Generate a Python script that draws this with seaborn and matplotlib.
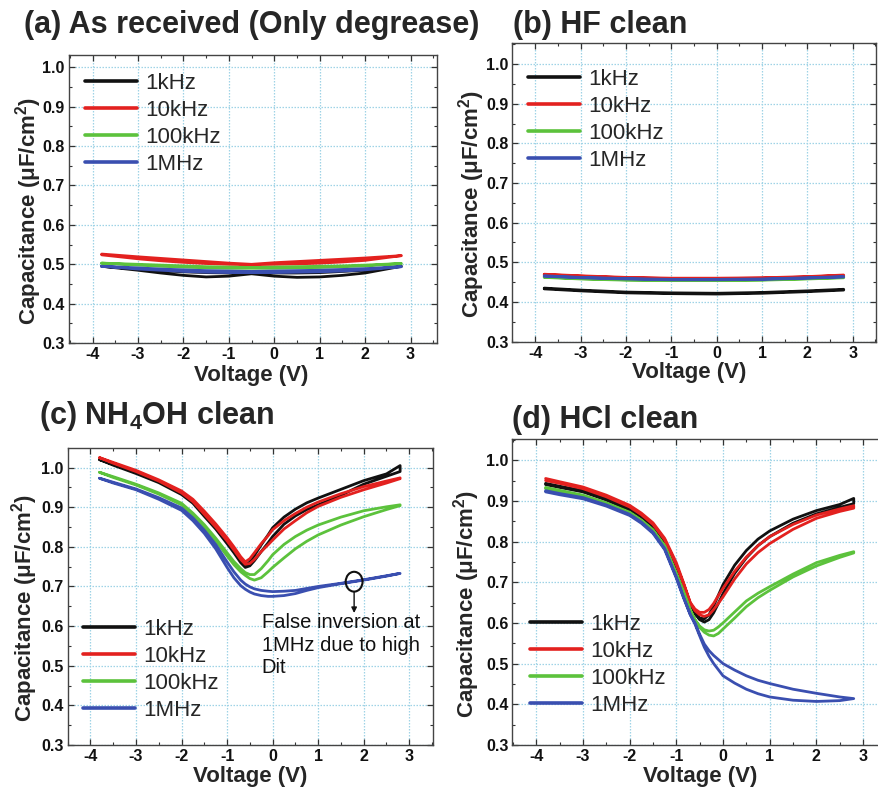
import numpy as np
import pandas as pd
import matplotlib
matplotlib.use("Agg")
import matplotlib.pyplot as plt
import seaborn as sns
from matplotlib.lines import Line2D
from matplotlib.patches import Ellipse
from matplotlib.ticker import MultipleLocator, FormatStrFormatter

# ---------------- data ----------------
freqs = ["1kHz", "10kHz", "100kHz", "1MHz"]
line_colors = ["#111111", "#e3211f", "#5cc23c", "#3a4fb0"]

titles = ["(a) As received (Only degrease)", "(b) HF clean",
          r"(c) NH$_\mathbf{4}$OH clean", "(d) HCl clean"]

# (a) As received
V_a = [-3.8, -3.0, -2.5, -2.0, -1.5, -1.0, -0.5, 0.0, 0.5, 1.0, 1.5, 2.0, 2.8]
a_1k_fwd = [0.495, 0.485, 0.478, 0.472, 0.468, 0.470, 0.476, 0.470, 0.467, 0.468, 0.472, 0.478, 0.495]
a_1k_rev = [0.495, 0.488, 0.484, 0.481, 0.479, 0.478, 0.478, 0.478, 0.478, 0.479, 0.482, 0.485, 0.495]
a_10k_fwd = [0.526, 0.519, 0.515, 0.511, 0.507, 0.503, 0.500, 0.504, 0.507, 0.510, 0.513, 0.516, 0.522]
a_10k_rev = [0.524, 0.514, 0.509, 0.505, 0.502, 0.500, 0.499, 0.500, 0.501, 0.503, 0.506, 0.510, 0.522]
a_100k_fwd = [0.503, 0.500, 0.498, 0.496, 0.494, 0.493, 0.492, 0.493, 0.494, 0.495, 0.496, 0.498, 0.502]
a_100k_rev = [0.503, 0.498, 0.495, 0.493, 0.491, 0.490, 0.490, 0.490, 0.491, 0.492, 0.494, 0.496, 0.502]
a_1M_fwd = [0.495, 0.491, 0.488, 0.486, 0.484, 0.483, 0.482, 0.483, 0.484, 0.485, 0.487, 0.489, 0.494]
a_1M_rev = [0.495, 0.488, 0.485, 0.482, 0.480, 0.479, 0.479, 0.479, 0.480, 0.481, 0.483, 0.486, 0.494]

# (b) HF clean
V_b = [-3.8, -3.0, -2.0, -1.0, 0.0, 1.0, 2.0, 2.8]
b_1k_fwd = [0.435, 0.430, 0.425, 0.423, 0.422, 0.424, 0.428, 0.432]
b_1k_rev = [0.433, 0.428, 0.423, 0.421, 0.420, 0.422, 0.426, 0.430]
b_10k_fwd = [0.470, 0.466, 0.462, 0.460, 0.460, 0.461, 0.464, 0.468]
b_10k_rev = [0.469, 0.465, 0.461, 0.459, 0.459, 0.460, 0.463, 0.467]
b_100k_fwd = [0.463, 0.459, 0.456, 0.455, 0.455, 0.456, 0.459, 0.462]
b_100k_rev = [0.462, 0.458, 0.455, 0.454, 0.454, 0.455, 0.458, 0.461]
b_1M_fwd = [0.466, 0.462, 0.459, 0.457, 0.457, 0.458, 0.461, 0.464]
b_1M_rev = [0.465, 0.461, 0.458, 0.456, 0.456, 0.457, 0.460, 0.463]

# (c) NH4OH clean
V_c = [-3.8, -3.5, -3.0, -2.5, -2.0, -1.75, -1.5, -1.25, -1.0, -0.85, -0.7, -0.6, -0.5,
       -0.4, -0.25, -0.1, 0.0, 0.25, 0.5, 0.75, 1.0, 1.5, 2.0, 2.5, 2.8]
c_1k_fwd = [1.020, 1.006, 0.985, 0.962, 0.932, 0.910, 0.877, 0.845, 0.808, 0.785, 0.760, 0.748, 0.752,
            0.765, 0.788, 0.810, 0.826, 0.857, 0.878, 0.894, 0.906, 0.930, 0.958, 0.978, 0.990]
c_1k_rev = [1.020, 1.008, 0.988, 0.965, 0.937, 0.915, 0.884, 0.852, 0.816, 0.792, 0.766, 0.752, 0.762,
            0.778, 0.805, 0.830, 0.848, 0.875, 0.895, 0.911, 0.923, 0.945, 0.967, 0.984, 1.005]
c_10k_fwd = [1.025, 1.011, 0.990, 0.966, 0.936, 0.914, 0.882, 0.850, 0.815, 0.792, 0.768, 0.756, 0.758,
             0.768, 0.788, 0.805, 0.817, 0.845, 0.866, 0.886, 0.902, 0.925, 0.944, 0.961, 0.972]
c_10k_rev = [1.025, 1.013, 0.993, 0.969, 0.941, 0.920, 0.890, 0.858, 0.823, 0.800, 0.775, 0.762, 0.770,
             0.785, 0.808, 0.828, 0.843, 0.866, 0.884, 0.900, 0.913, 0.934, 0.952, 0.966, 0.974]
c_100k_fwd = [0.988, 0.975, 0.956, 0.933, 0.906, 0.880, 0.850, 0.815, 0.777, 0.755, 0.737, 0.728, 0.720,
              0.716, 0.722, 0.737, 0.748, 0.772, 0.795, 0.814, 0.830, 0.855, 0.876, 0.894, 0.904]
c_100k_rev = [0.988, 0.977, 0.958, 0.936, 0.910, 0.885, 0.856, 0.822, 0.785, 0.763, 0.745, 0.735, 0.730,
              0.730, 0.745, 0.765, 0.780, 0.806, 0.826, 0.842, 0.855, 0.875, 0.891, 0.901, 0.906]
c_1M_fwd = [0.973, 0.961, 0.944, 0.920, 0.892, 0.866, 0.834, 0.795, 0.748, 0.722, 0.702, 0.693, 0.686,
            0.681, 0.677, 0.675, 0.675, 0.677, 0.682, 0.690, 0.697, 0.707, 0.716, 0.726, 0.733]
c_1M_rev = [0.973, 0.963, 0.946, 0.924, 0.898, 0.873, 0.842, 0.806, 0.762, 0.737, 0.716, 0.706, 0.699,
            0.694, 0.690, 0.688, 0.687, 0.688, 0.690, 0.695, 0.700, 0.708, 0.717, 0.727, 0.733]

# (d) HCl clean
V_d = [-3.8, -3.5, -3.0, -2.5, -2.0, -1.75, -1.5, -1.25, -1.0, -0.85, -0.7, -0.6, -0.5,
       -0.4, -0.3, -0.2, -0.1, 0.0, 0.25, 0.5, 0.75, 1.0, 1.5, 2.0, 2.5, 2.8]
d_1k_fwd = [0.943, 0.936, 0.925, 0.905, 0.880, 0.861, 0.837, 0.799, 0.738, 0.692, 0.642, 0.622, 0.608,
            0.602, 0.608, 0.625, 0.648, 0.672, 0.722, 0.760, 0.790, 0.812, 0.845, 0.868, 0.884, 0.893]
d_1k_rev = [0.940, 0.933, 0.922, 0.902, 0.877, 0.858, 0.834, 0.796, 0.735, 0.690, 0.642, 0.624, 0.612,
            0.610, 0.620, 0.642, 0.668, 0.694, 0.742, 0.778, 0.806, 0.826, 0.855, 0.876, 0.891, 0.906]
d_10k_fwd = [0.955, 0.947, 0.934, 0.914, 0.889, 0.870, 0.846, 0.808, 0.748, 0.700, 0.648, 0.630, 0.620,
             0.616, 0.620, 0.633, 0.648, 0.664, 0.708, 0.745, 0.773, 0.795, 0.830, 0.857, 0.874, 0.882]
d_10k_rev = [0.950, 0.943, 0.930, 0.910, 0.885, 0.866, 0.842, 0.804, 0.742, 0.698, 0.650, 0.634, 0.626,
             0.626, 0.633, 0.648, 0.667, 0.685, 0.727, 0.762, 0.790, 0.812, 0.842, 0.865, 0.880, 0.888]
d_100k_fwd = [0.933, 0.926, 0.914, 0.895, 0.872, 0.853, 0.829, 0.790, 0.722, 0.678, 0.632, 0.607, 0.589,
              0.577, 0.570, 0.568, 0.574, 0.585, 0.612, 0.640, 0.662, 0.680, 0.713, 0.740, 0.761, 0.772]
d_100k_rev = [0.930, 0.923, 0.912, 0.893, 0.870, 0.851, 0.827, 0.788, 0.720, 0.676, 0.630, 0.608, 0.592,
              0.583, 0.580, 0.582, 0.590, 0.600, 0.627, 0.654, 0.673, 0.689, 0.720, 0.748, 0.766, 0.775]
d_1M_fwd = [0.925, 0.918, 0.908, 0.890, 0.867, 0.848, 0.823, 0.783, 0.713, 0.665, 0.620, 0.597, 0.568,
            0.540, 0.518, 0.500, 0.485, 0.470, 0.452, 0.437, 0.426, 0.418, 0.410, 0.407, 0.409, 0.414]
d_1M_rev = [0.922, 0.915, 0.905, 0.887, 0.864, 0.845, 0.820, 0.780, 0.710, 0.663, 0.620, 0.600, 0.572,
            0.548, 0.532, 0.520, 0.510, 0.500, 0.484, 0.470, 0.459, 0.451, 0.437, 0.427, 0.418, 0.414]

x_ticks = [-4, -3, -2, -1, 0, 1, 2, 3]
y_ticks = [0.3, 0.4, 0.5, 0.6, 0.7, 0.8, 0.9, 1.0]
annot_text = "False inversion at\n1MHz due to high\nDit"

panels = {
    "a": (V_a, [(a_1k_fwd, a_1k_rev), (a_10k_fwd, a_10k_rev), (a_100k_fwd, a_100k_rev), (a_1M_fwd, a_1M_rev)]),
    "b": (V_b, [(b_1k_fwd, b_1k_rev), (b_10k_fwd, b_10k_rev), (b_100k_fwd, b_100k_rev), (b_1M_fwd, b_1M_rev)]),
    "c": (V_c, [(c_1k_fwd, c_1k_rev), (c_10k_fwd, c_10k_rev), (c_100k_fwd, c_100k_rev), (c_1M_fwd, c_1M_rev)]),
    "d": (V_d, [(d_1k_fwd, d_1k_rev), (d_10k_fwd, d_10k_rev), (d_100k_fwd, d_100k_rev), (d_1M_fwd, d_1M_rev)]),
}

rows = []
for pk, (V, series) in panels.items():
    for f, (fwd, rev) in zip(freqs, series):
        path_v = list(V) + list(V)[::-1]
        path_c = list(fwd) + list(rev)[::-1]
        for i, (v, c) in enumerate(zip(path_v, path_c)):
            rows.append({"panel": pk, "freq": f, "order": i, "V": v, "C": c})
df = pd.DataFrame(rows)

# ---------------- style ----------------
sns.set_style("ticks")
plt.rcParams["font.family"] = ["Liberation Sans", "DejaVu Sans"]
plt.rcParams["mathtext.fontset"] = "custom"
plt.rcParams["mathtext.rm"] = "Liberation Sans"
plt.rcParams["mathtext.bf"] = "Liberation Sans:bold"
plt.rcParams["axes.unicode_minus"] = False
plt.rcParams["lines.solid_capstyle"] = "round"
plt.rcParams["lines.solid_joinstyle"] = "round"

fig = plt.figure(figsize=(8.79, 7.89), dpi=100)

rects = {
    "a": [0.0785, 0.565, 0.4185, 0.365],
    "b": [0.583, 0.567, 0.414, 0.3785],
    "c": [0.077, 0.0558, 0.4155, 0.3762],
    "d": [0.583, 0.0558, 0.4265, 0.3878],
}
xlims = {"a": (-4.52, 3.58), "b": (-4.5, 3.52), "c": (-4.5, 3.52), "d": (-4.51, 3.52)}
ylims = {"a": (0.3, 1.03), "b": (0.3, 1.053), "c": (0.3, 1.049), "d": (0.3, 1.052)}
legend_anchor = {"a": (0.043, 0.938), "b": (0.042, 0.913), "c": (0.041, 0.4235), "d": (0.046, 0.428)}
ylabel_x = {"a": -0.068, "b": -0.069, "c": -0.077, "d": -0.08}
xlabel_pos = {"a": (0.496, -0.076), "b": (0.487, -0.067), "c": (0.5, -0.071), "d": (0.5, -0.07)}
title_pos = {"a": (0.0273, 0.9578), "b": (0.5833, 0.9578), "c": (0.0444, 0.4626), "d": (0.582, 0.457)}

palette = dict(zip(freqs, line_colors))

for idx, pk in enumerate(["a", "b", "c", "d"]):
    ax = fig.add_axes(rects[pk])
    sub = df[df["panel"] == pk]
    sns.lineplot(data=sub, x="V", y="C", hue="freq", hue_order=freqs, units="freq",
                 estimator=None, sort=False, palette=palette, linewidth=2.0,
                 legend=False, ax=ax)
    ax.set_xlim(*xlims[pk])
    ax.set_ylim(*ylims[pk])
    ax.set_xticks(x_ticks)
    ax.set_yticks(y_ticks)
    ax.xaxis.set_minor_locator(MultipleLocator(0.5))
    ax.yaxis.set_minor_locator(MultipleLocator(0.05))
    ax.yaxis.set_major_formatter(FormatStrFormatter("%.1f"))
    ax.grid(True, which="major", color="#9fd3e6", linestyle=(0, (1.2, 1.2)), linewidth=0.9)
    ax.set_axisbelow(True)
    ax.tick_params(which="both", direction="in", top=True, right=True, colors="#333333",
                   labelcolor="#111111")
    ax.tick_params(which="major", length=4.5, width=0.9, labelsize=11.5, pad=3)
    ax.tick_params(which="minor", length=2.5, width=0.8)
    for lab in ax.get_xticklabels() + ax.get_yticklabels():
        lab.set_fontweight("bold")
    for s in ax.spines.values():
        s.set_color("#444444")
        s.set_linewidth(1.0)

    ax.set_xlabel("Voltage (V)", fontsize=16, fontweight="bold")
    ax.set_ylabel("Capacitance (\u03bcF/cm$^\\mathbf{2}$)", fontsize=16, fontweight="bold")
    ax.xaxis.set_label_coords(*xlabel_pos[pk])
    ax.xaxis.label.set_va("top")
    ax.yaxis.set_label_coords(ylabel_x[pk], 0.46)

    handles = [Line2D([0], [0], color=c, lw=2.6) for c in line_colors]
    ax.legend(handles, freqs, loc="upper left", bbox_to_anchor=legend_anchor[pk],
              frameon=False, fontsize=16, handlelength=2.35, handletextpad=0.36,
              labelspacing=0.27, borderpad=0, borderaxespad=0)

    fig.text(title_pos[pk][0], title_pos[pk][1], titles[idx], fontsize=22,
             fontweight="bold", ha="left", va="baseline")

    if pk == "c":
        ax.add_patch(Ellipse((1.79, 0.712), width=0.37, height=0.05, fill=False,
                             edgecolor="#111111", linewidth=1.5, zorder=5))
        ax.annotate("", xy=(1.79, 0.633), xytext=(1.79, 0.687),
                    arrowprops=dict(arrowstyle="-|>", color="#111111", lw=1.0,
                                    mutation_scale=8, shrinkA=0, shrinkB=0))
        ax.text(-0.24, 0.632, annot_text, fontsize=14.5, ha="left", va="top",
                linespacing=1.22, color="#111111", transform=ax.transData)

fig.savefig("out.png", dpi=100)
